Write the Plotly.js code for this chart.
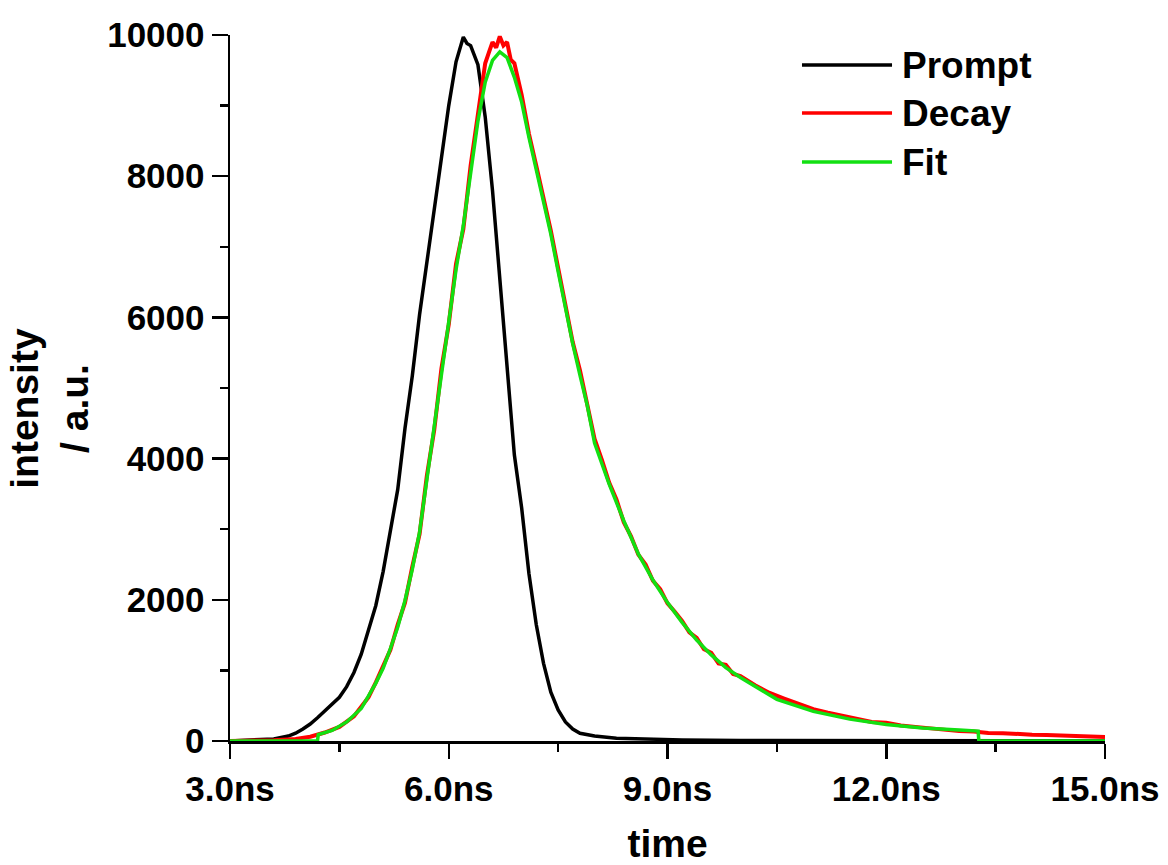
<!DOCTYPE html>
<html>
<head>
<meta charset="utf-8">
<script src="https://cdn.plot.ly/plotly-3.0.1.min.js"></script>
<style>
html,body{margin:0;padding:0;background:#fff;}
#chart{width:1168px;height:865px;}
</style>
</head>
<body>
<div id="chart"></div>
<script>
// ---- Data ----
var promptTime = [3.0, 3.3, 3.6, 3.8, 3.9, 4.0, 4.1, 4.2, 4.3, 4.4, 4.5, 4.6, 4.7, 4.8, 4.9, 5.0, 5.1, 5.2, 5.3, 5.4, 5.5, 5.6, 5.7, 5.8, 5.9, 6.0, 6.1, 6.15, 6.2, 6.25, 6.3, 6.4, 6.5, 6.6, 6.7, 6.8, 6.9, 7.0, 7.1, 7.2, 7.3, 7.4, 7.5, 7.6, 7.7, 7.8, 8.0, 8.3, 8.7, 9.2, 10.0, 11.0, 12.0, 13.0, 15.0];
var promptValues = [0, 10, 30, 70, 110, 170, 240, 330, 430, 520, 620, 770, 970, 1230, 1560, 1920, 2400, 2950, 3560, 4430, 5170, 6040, 6800, 7530, 8320, 9000, 9620, 9800, 9970, 9880, 9850, 9580, 8840, 7800, 6530, 5200, 4050, 3300, 2370, 1650, 1100, 690, 440, 270, 170, 110, 70, 40, 25, 15, 8, 4, 2, 0, 0];

var decayTime = [3.0, 3.3, 3.6, 3.9, 4.1, 4.3, 4.5, 4.7, 4.9, 5.0, 5.1, 5.2, 5.3, 5.4, 5.5, 5.6, 5.7, 5.8, 5.9, 6.0, 6.1, 6.2, 6.3, 6.4, 6.5, 6.55, 6.6, 6.65, 6.7, 6.75, 6.8, 6.85, 6.9, 7.0, 7.1, 7.2, 7.3, 7.4, 7.5, 7.6, 7.7, 7.8, 7.9, 8.0, 8.1, 8.2, 8.3, 8.4, 8.5, 8.6, 8.7, 8.8, 8.9, 9.0, 9.1, 9.2, 9.3, 9.4, 9.5, 9.6, 9.7, 9.8, 9.9, 10.0, 10.2, 10.4, 10.6, 10.8, 11.0, 11.2, 11.4, 11.6, 11.8, 12.0, 12.2, 12.4, 12.6, 12.8, 13.0, 13.2, 13.4, 13.6, 13.8, 14.0, 14.2, 14.4, 14.6, 14.8, 15.0];
var decayValues = [0, 3, 10, 30, 60, 120, 200, 350, 620, 830, 1060, 1290, 1650, 1960, 2470, 2930, 3760, 4400, 5280, 5900, 6760, 7250, 8150, 8900, 9600, 9750, 9900, 9820, 9980, 9850, 9900, 9650, 9600, 9150, 8600, 8150, 7720, 7230, 6700, 6180, 5650, 5250, 4760, 4280, 3980, 3660, 3420, 3100, 2900, 2640, 2500, 2270, 2150, 1950, 1830, 1700, 1540, 1460, 1300, 1250, 1100, 1080, 950, 920, 790, 680, 600, 520, 450, 400, 360, 320, 270, 260, 220, 200, 180, 170, 140, 135, 115, 110, 95, 90, 85, 75, 70, 60, 55];

var fitTime = [3.0, 4.2, 4.21, 4.4, 4.6, 4.8, 5.0, 5.1, 5.2, 5.3, 5.4, 5.5, 5.6, 5.7, 5.8, 5.9, 6.0, 6.1, 6.2, 6.3, 6.4, 6.5, 6.6, 6.7, 6.8, 6.9, 7.0, 7.1, 7.2, 7.3, 7.4, 7.5, 7.6, 7.7, 7.8, 7.9, 8.0, 8.2, 8.4, 8.6, 8.8, 9.0, 9.2, 9.4, 9.6, 9.8, 10.0, 10.5, 11.0, 11.5, 12.0, 12.5, 13.0, 13.26, 13.27, 15.0];
var fitValues = [0, 0, 90, 150, 270, 460, 820, 1030, 1310, 1610, 1990, 2430, 2960, 3700, 4450, 5200, 5950, 6680, 7300, 8050, 8780, 9330, 9640, 9760, 9680, 9400, 9050, 8550, 8080, 7650, 7180, 6650, 6120, 5630, 5180, 4750, 4220, 3640, 3120, 2650, 2280, 1960, 1680, 1430, 1220, 1040, 900, 590, 420, 310, 235, 185, 155, 140, 0, 0];

var seriesNames = ["Prompt", "Decay", "Fit"];
var seriesColors = ["#000000", "#ff0000", "#12e012"];

var xTickVals = [3, 6, 9, 12, 15];
var xTickText = ["3.0ns", "6.0ns", "9.0ns", "12.0ns", "15.0ns"];
var yTickVals = [0, 2000, 4000, 6000, 8000, 10000];
var yTickText = ["0", "2000", "4000", "6000", "8000", "10000"];

var FONT = "Liberation Sans, Arial, Helvetica, sans-serif";

var traces = [
  {x: promptTime, y: promptValues, name: seriesNames[0], mode: "lines", line: {color: seriesColors[0], width: 3.5}},
  {x: decayTime, y: decayValues, name: seriesNames[1], mode: "lines", line: {color: seriesColors[1], width: 4}},
  {x: fitTime, y: fitValues, name: seriesNames[2], mode: "lines", line: {color: seriesColors[2], width: 3.5}}
];

// manual legend (long line samples as in the reference)
var legendY = [0.9575, 0.8895, 0.8201];
var shapes = [];
var annotations = [];
for (var i = 0; i < seriesNames.length; i++) {
  shapes.push({type: "line", xref: "paper", yref: "paper", x0: 0.6537, x1: 0.7566, y0: legendY[i], y1: legendY[i],
    line: {color: seriesColors[i], width: 3.5}});
  annotations.push({xref: "paper", yref: "paper", x: 0.7660, y: legendY[i], xanchor: "left", yanchor: "middle",
    text: seriesNames[i], showarrow: false, font: {family: FONT, size: 37, color: "#000", weight: "bold"}});
}
annotations.push({xref: "paper", yref: "paper", x: -0.2060, y: 0.4717, xanchor: "center", yanchor: "middle",
  textangle: -90, text: "intensity<br>/ a.u.", showarrow: false,
  font: {family: FONT, size: 39, color: "#000", weight: "bold"}});

var layout = {
  width: 1168, height: 865,
  margin: {l: 230, r: 63, t: 35, b: 124, pad: 0},
  paper_bgcolor: "#ffffff", plot_bgcolor: "#ffffff",
  showlegend: false,
  font: {family: FONT, size: 35, color: "#000", weight: "bold"},
  xaxis: {
    range: [3, 15], tickmode: "array", tickvals: xTickVals, ticktext: xTickText,
    ticks: "outside", ticklen: 15, tickwidth: 2.5, tickcolor: "#000",
    minor: {tick0: 3, dtick: 1.5, ticks: "outside", ticklen: 8, tickwidth: 2.5, tickcolor: "#000", showgrid: false},
    showline: true, linewidth: 2.5, linecolor: "#000", showgrid: false, zeroline: false,
    tickfont: {family: FONT, size: 35, color: "#000", weight: "bold"},
    title: {text: "time", standoff: 36, font: {family: FONT, size: 39, color: "#000", weight: "bold"}}
  },
  yaxis: {
    range: [0, 10000], tickmode: "array", tickvals: yTickVals, ticktext: yTickText,
    ticks: "outside", ticklen: 16, tickwidth: 2.5, tickcolor: "#000",
    minor: {tick0: 0, dtick: 1000, ticks: "outside", ticklen: 8, tickwidth: 2.5, tickcolor: "#000", showgrid: false},
    showline: true, linewidth: 2.5, linecolor: "#000", showgrid: false, zeroline: false,
    tickfont: {family: FONT, size: 35, color: "#000", weight: "bold"}
  },
  shapes: shapes,
  annotations: annotations
};

Plotly.newPlot("chart", traces, layout, {displayModeBar: false, staticPlot: true});
</script>
</body>
</html>
